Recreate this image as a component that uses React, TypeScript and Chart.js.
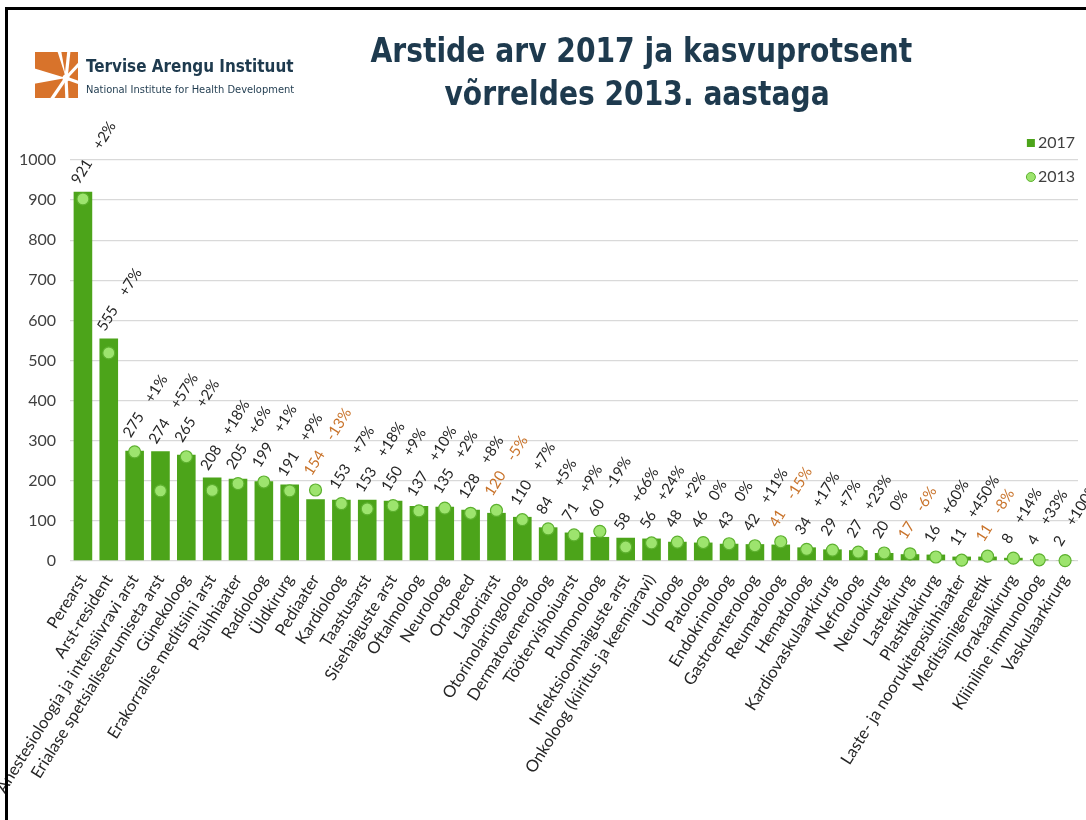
import React, { useEffect, useRef } from 'react';
import { Chart, registerables } from 'chart.js';

Chart.register(...registerables);

const categories = [
  'Perearst',
  'Arst-resident',
  'Anestesioloogia ja intensiivravi arst',
  'Erialase spetsialiseerumiseta arst',
  'Günekoloog',
  'Erakorralise meditsiini arst',
  'Psühhiaater',
  'Radioloog',
  'Üldkirurg',
  'Pediaater',
  'Kardioloog',
  'Taastusarst',
  'Sisehaiguste arst',
  'Oftalmoloog',
  'Neuroloog',
  'Ortopeed',
  'Laboriarst',
  'Otorinolarüngoloog',
  'Dermatoveneroloog',
  'Töötervishoiuarst',
  'Pulmonoloog',
  'Infektsioonhaiguste arst',
  'Onkoloog (kiiritus ja keemiaravi)',
  'Uroloog',
  'Patoloog',
  'Endokrinoloog',
  'Gastroenteroloog',
  'Reumatoloog',
  'Hematoloog',
  'Kardiovaskulaarkirurg',
  'Nefroloog',
  'Neurokirurg',
  'Lastekirurg',
  'Plastikakirurg',
  'Laste- ja noorukitepsühhiaater',
  'Meditsiinigeneetik',
  'Torakaalkirurg',
  'Kliiniline immunoloog',
  'Vaskulaarkirurg',
];

const values2017 = [
  921, 555, 275, 274, 265, 208, 205, 199, 191, 154, 153, 153, 150, 137, 135, 128, 120, 110, 84, 71,
  60, 58, 56, 48, 46, 43, 42, 41, 34, 29, 27, 20, 17, 16, 11, 11, 8, 4, 2,
];

const values2013 = [
  903, 519, 272, 175, 260, 176, 193, 197, 175, 177, 143, 130, 138, 125, 132, 119, 126, 103, 80, 65,
  74, 35, 45, 47, 46, 43, 38, 48, 29, 27, 22, 20, 18, 10, 2, 12, 7, 3, 1,
];

const changeLabels = [
  '+2%', '+7%', '+1%', '+57%', '+2%', '+18%', '+6%', '+1%', '+9%', '-13%', '+7%', '+18%', '+9%',
  '+10%', '+2%', '+8%', '-5%', '+7%', '+5%', '+9%', '-19%', '+66%', '+24%', '+2%', '0%', '0%',
  '+11%', '-15%', '+17%', '+7%', '+23%', '0%', '-6%', '+60%', '+450%', '-8%', '+14%', '+33%', '+100%',
];

const highlightedCategories = ['Pediaater', 'Laboriarst', 'Reumatoloog', 'Lastekirurg', 'Meditsiinigeneetik'];

const legendLabels = ['2017', '2013'];
const yMin = 0;
const yMax = 1000;
const yStep = 100;

const titleLines = ['Arstide arv 2017 ja kasvuprotsent', 'võrreldes 2013. aastaga'];
const logoName = 'Tervise Arengu Instituut';
const logoSub = 'National Institute for Health Development';

const BAR_COLOR = '#4ca41a';
const POINT_FILL = '#9de46e';
const POINT_BORDER = '#5db12f';
const TEXT_DARK = '#262626';
const TEXT_ORANGE = '#c9742c';
const AXIS_TEXT = '#404040';
const TITLE_COLOR = '#1e3a4e';
const LABEL_ANGLE = (58 * Math.PI) / 180;
const FONT = 'Lato, "Noto Sans", sans-serif';

const dataLabelsPlugin = {
  id: 'dataLabels',
  afterDatasetsDraw(chart: any) {
    const { ctx } = chart;
    const x = chart.scales.x;
    const y = chart.scales.y;
    ctx.save();
    ctx.font = `15px ${FONT}`;
    ctx.textBaseline = 'middle';
    ctx.textAlign = 'left';
    categories.forEach((cat, i) => {
      const cx = x.getPixelForValue(i);
      const top = Math.min(y.getPixelForValue(values2017[i]), y.getPixelForValue(values2013[i]) - 7);
      const valueText = String(values2017[i]);
      ctx.fillStyle = highlightedCategories.includes(cat) ? TEXT_ORANGE : TEXT_DARK;
      ctx.save();
      ctx.translate(cx - 8, top - 9);
      ctx.rotate(-LABEL_ANGLE);
      ctx.fillText(valueText, 0, 0);
      const w = ctx.measureText(valueText).width;
      ctx.fillText(changeLabels[i], w + 15, 0);
      ctx.restore();
    });
    ctx.restore();
  },
};

const cornerLegendPlugin = {
  id: 'cornerLegend',
  afterDraw(chart: any) {
    const { ctx, chartArea } = chart;
    const right = chartArea.right - 3;
    const rows = [143, 177];
    ctx.save();
    ctx.font = `16px ${FONT}`;
    ctx.textAlign = 'right';
    ctx.textBaseline = 'middle';
    ctx.fillStyle = AXIS_TEXT;
    ctx.fillText(legendLabels[0], right, rows[0]);
    const w0 = ctx.measureText(legendLabels[0]).width;
    ctx.fillStyle = BAR_COLOR;
    ctx.fillRect(right - w0 - 11, rows[0] - 4, 8, 8);
    ctx.fillStyle = AXIS_TEXT;
    ctx.fillText(legendLabels[1], right, rows[1]);
    const w1 = ctx.measureText(legendLabels[1]).width;
    ctx.beginPath();
    ctx.arc(right - w1 - 7, rows[1], 4.5, 0, Math.PI * 2);
    ctx.fillStyle = POINT_FILL;
    ctx.fill();
    ctx.lineWidth = 1;
    ctx.strokeStyle = POINT_BORDER;
    ctx.stroke();
    ctx.restore();
  },
};

type FitItem = { text: string; left: number; top: number; width: number; size: number; bold: boolean; align: 'center' | 'left'; color: string };

const fitItems: FitItem[] = [
  { text: titleLines[0], left: 641, top: 31.5, width: 542, size: 33, bold: true, align: 'center', color: TITLE_COLOR },
  { text: titleLines[1], left: 637, top: 74.5, width: 385, size: 33, bold: true, align: 'center', color: TITLE_COLOR },
  { text: logoName, left: 86, top: 56.5, width: 208, size: 17, bold: true, align: 'left', color: TITLE_COLOR },
  { text: logoSub, left: 86, top: 78.5, width: 208, size: 10.5, bold: false, align: 'left', color: TITLE_COLOR },
];

function Logo() {
  const c = { x: 66, y: 78 };
  const rays: [number, number][] = [
    [69, 50],
    [80, 63],
    [80, 83],
    [67, 100],
    [51, 100],
  ];
  return (
    <svg width={50} height={52} viewBox="33 50 50 52" style={{ position: 'absolute', left: 33, top: 50 }}>
      <rect x={35} y={52} width={43} height={46} fill="#d8732b" />
      <polygon points={`${c.x},${c.y} 33,68 33,84`} fill="#fff" />
      <polygon points={`${c.x},${c.y} 57,50 61,50`} fill="#fff" />
      {rays.map(([rx, ry], i) => (
        <line key={i} x1={c.x} y1={c.y} x2={rx} y2={ry} stroke="#fff" strokeWidth={3.2} />
      ))}
      <circle cx={c.x} cy={c.y} r={3.5} fill="#fff" />
    </svg>
  );
}

export default function App() {
  const canvasRef = useRef<HTMLCanvasElement>(null);
  const spanRefs = useRef<(HTMLSpanElement | null)[]>([]);

  useEffect(() => {
    if (!canvasRef.current) return;
    let alive = true;
    const chart = new Chart(canvasRef.current, {
      type: 'bar',
      data: {
        labels: categories,
        datasets: [
          {
            type: 'line',
            label: legendLabels[1],
            data: values2013,
            showLine: false,
            pointRadius: 6,
            pointHoverRadius: 6,
            pointBackgroundColor: POINT_FILL,
            pointBorderColor: POINT_BORDER,
            pointBorderWidth: 1.2,
            order: 0,
            clip: false,
          } as any,
          {
            type: 'bar',
            label: legendLabels[0],
            data: values2017,
            backgroundColor: BAR_COLOR,
            borderWidth: 0,
            barPercentage: 0.72,
            categoryPercentage: 1,
            order: 1,
          },
        ],
      },
      options: {
        responsive: false,
        animation: false,
        layout: { padding: { top: 160, right: 8, left: 0, bottom: 0 } },
        plugins: {
          legend: { display: false },
          tooltip: { enabled: false },
          title: { display: false },
        },
        scales: {
          x: {
            grid: { display: false },
            border: { display: false },
            ticks: {
              color: TEXT_DARK,
              font: { family: FONT, size: 16.5 },
              minRotation: 58,
              maxRotation: 58,
              autoSkip: false,
              padding: 2,
            },
            afterFit: (scale: any) => {
              scale.height = 259;
            },
          },
          y: {
            min: yMin,
            max: yMax,
            ticks: {
              stepSize: yStep,
              color: AXIS_TEXT,
              font: { family: FONT, size: 16 },
              padding: 14,
              callback: (v: any) => String(v),
            },
            grid: { color: '#d9d9d9', lineWidth: 1.3, drawTicks: false },
            border: { display: false },
            afterFit: (scale: any) => {
              scale.width = 70;
            },
          },
        },
      } as any,
      plugins: [dataLabelsPlugin, cornerLegendPlugin],
    });

    const fit = () => {
      spanRefs.current.forEach((el, i) => {
        if (!el) return;
        el.style.transform = 'none';
        const w = el.offsetWidth;
        if (w > 0) el.style.transform = `scaleX(${fitItems[i].width / w})`;
      });
    };
    fit();
    const fonts: any = (document as any).fonts;
    if (fonts && fonts.ready) {
      fonts.ready.then(() => {
        if (!alive) return;
        fit();
        chart.update();
      });
    }
    return () => {
      alive = false;
      chart.destroy();
    };
  }, []);

  return (
    <div
      style={{
        position: 'fixed',
        left: 0,
        top: 0,
        width: 1086,
        height: 820,
        overflow: 'hidden',
        background: '#fff',
      }}
    >
      <canvas ref={canvasRef} width={1086} height={820} style={{ position: 'absolute', left: 0, top: 0 }} />
      <Logo />
      {fitItems.map((it, i) => (
        <div
          key={i}
          style={{
            position: 'absolute',
            left: it.align === 'center' ? it.left - 500 : it.left,
            top: it.top,
            width: it.align === 'center' ? 1000 : 400,
            textAlign: it.align,
            whiteSpace: 'nowrap',
          }}
        >
          <span
            ref={(el) => {
              spanRefs.current[i] = el;
            }}
            style={{
              display: 'inline-block',
              fontFamily: '"DejaVu Sans Condensed", "DejaVu Sans", sans-serif',
              fontWeight: it.bold ? 700 : 400,
              fontSize: it.size,
              lineHeight: `${it.size * 1.164}px`,
              color: it.color,
              transformOrigin: it.align === 'center' ? 'center' : 'left',
            }}
          >
            {it.text}
          </span>
        </div>
      ))}
      <div
        style={{
          position: 'absolute',
          left: 5,
          top: 7,
          width: 1200,
          height: 900,
          borderTop: '3px solid #000',
          borderLeft: '3px solid #000',
          pointerEvents: 'none',
        }}
      />
    </div>
  );
}
